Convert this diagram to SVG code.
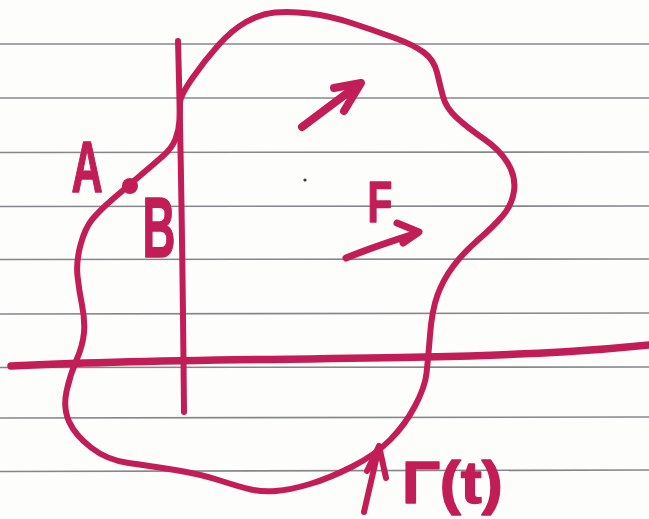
<svg xmlns="http://www.w3.org/2000/svg" width="649" height="519" viewBox="0 0 649 519">
<style>
.rule{stroke:#85878a;stroke-width:1.6;fill:none}
.ink{stroke:#c21d57;fill:none;stroke-linecap:round;stroke-linejoin:round}
.lbl{font-family:"Liberation Sans",Arial,sans-serif;font-weight:700;fill:#c21d57;stroke:#c21d57;stroke-width:1.5;stroke-linejoin:round}
</style>
<rect width="649" height="519" fill="#fdfdfc"/>
<g id="paper">
<line class="rule" x1="0" y1="44" x2="649" y2="44"/>
<line class="rule" x1="0" y1="98" x2="649" y2="98"/>
<line class="rule" x1="0" y1="152.5" x2="649" y2="152"/>
<line class="rule" x1="0" y1="206.5" x2="649" y2="206"/>
<line class="rule" x1="0" y1="259.5" x2="649" y2="259"/>
<line class="rule" x1="0" y1="314" x2="649" y2="313"/>
<line class="rule" x1="0" y1="367.5" x2="649" y2="367"/>
<line class="rule" x1="0" y1="418" x2="649" y2="417"/>
<line class="rule" x1="0" y1="471.5" x2="649" y2="470"/>
</g>
<g id="axes">
<path class="ink" stroke-width="7.5" d="M11,366 C150,359 300,360 425,357 S600,350 649,345"/>
<path class="ink" stroke-width="6" d="M178,41 C181,150 183,300 184,412"/>
</g>
<g id="curve">
<path class="ink" stroke-width="6" d="M192.5,78 Q205,60 218.5,45 Q232,30 246,22 Q260,14 275,12.5 Q290,11 310,13.5 Q330,16 351.5,23 Q373,30 393.5,37.5 Q414,45 424,52.5 Q434,60 437,72.5 Q440,85 443,96.5 Q446,108 457,118 Q468,128 484,139 Q500,150 508,163.5 Q516,177 514,191 Q512,205 502.5,216 Q493,227 478,240 Q463,253 453,266.5 Q443,280 437.5,295 Q432,310 430,335 Q428,360 426.5,373.5 Q425,387 415,406 Q405,425 390,440 Q375,455 352.5,466.5 Q330,478 310,484 Q290,490 276,491 Q262,492 251,489.5 Q240,487 220,480.5 Q200,474 175,470 Q150,466 128.5,463 Q107,460 91,447.5 Q75,435 69,421.5 Q63,408 66.5,391.5 Q70,375 76.5,360 Q83,345 84,332.5 Q85,320 82,305 Q79,290 77.5,276 Q76,262 80.5,245 Q85,228 92.5,219 Q100,210 114,198 Q128,186 141.5,174.5 Q155,163 163.5,155.5 Q172,148 175.5,139 Q179,130 179.5,120 Q180,110 180,103 Q180,96 192.5,78 Z"/>
<circle cx="130" cy="186" r="8" fill="#c21d57"/>
<circle cx="305" cy="180" r="1.6" fill="#3a3a3a"/>
</g>
<g id="arrows">
<path class="ink" stroke-width="8" d="M302,127 L358,85"/>
<path class="ink" stroke-width="8" fill="#c21d57" d="M334,88 L361,83 L344,111"/>
<path class="ink" stroke-width="7" d="M346,258 C370,248 395,240 417,233"/>
<path class="ink" stroke-width="7" d="M397,223 L419,232 L403,243"/>
<path class="ink" stroke-width="6" d="M364,512 C369,490 374,468 379,447"/>
<path class="ink" stroke-width="6" d="M367,471 L379,446 L386,478"/>
</g>
<g id="labels">
<text class="lbl" font-size="72" text-anchor="middle" transform="translate(87,192) scale(0.6,1)">A</text>
<text class="lbl" font-size="86" text-anchor="middle" transform="translate(159,257) scale(0.53,1)">B</text>
<text class="lbl" font-size="58" text-anchor="middle" transform="translate(380,222) scale(0.7,1)">F</text>
<text class="lbl" font-size="60" transform="translate(402,503) scale(1.05,1)">Γ(t)</text>
</g>
</svg>
